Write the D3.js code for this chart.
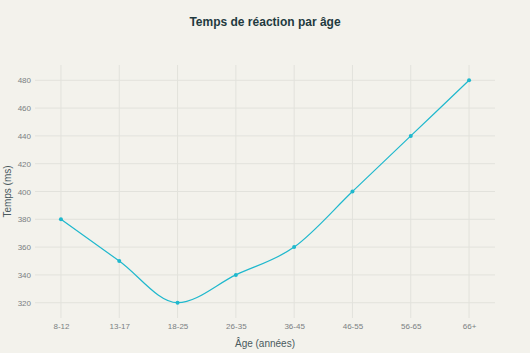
<!DOCTYPE html>
<html>
<head>
<meta charset="utf-8">
<script src="https://cdn.jsdelivr.net/npm/d3@7"></script>
<style>
  body { margin: 0; background: #f3f2ec; }
  svg { display: block; font-family: "Liberation Sans", Arial, sans-serif; }
  .tick text { fill: #7a7f82; font-size: 8px; }
</style>
</head>
<body>
<svg id="chart" width="530" height="353"></svg>
<script>
// data
var ageGroups = ["8-12", "13-17", "18-25", "26-35", "36-45", "46-55", "56-65", "66+"];
var reactionMs = [380, 350, 320, 340, 360, 400, 440, 480];
var yTicks = [320, 340, 360, 380, 400, 420, 440, 460, 480];

var svg = d3.select("#chart");
var width = 530, height = 353;
var margin = {left: 35, right: 35, top: 65, bottom: 35};

svg.append("rect").attr("width", width).attr("height", height).attr("fill", "#f3f2ec");

var x = d3.scalePoint()
    .domain(ageGroups)
    .range([margin.left, width - margin.right])
    .padding(0.445);

var y = d3.scaleLinear()
    .domain([309, 491])
    .range([height - margin.bottom, margin.top]);

// grid
svg.append("g")
    .selectAll("line.v")
    .data(ageGroups)
    .enter()
    .append("line")
    .attr("x1", d => x(d)).attr("x2", d => x(d))
    .attr("y1", margin.top).attr("y2", height - margin.bottom)
    .attr("stroke", "#e2e2dc").attr("stroke-width", 1);

svg.append("g")
    .selectAll("line.h")
    .data(yTicks)
    .enter()
    .append("line")
    .attr("x1", margin.left).attr("x2", width - margin.right)
    .attr("y1", d => y(d)).attr("y2", d => y(d))
    .attr("stroke", "#e2e2dc").attr("stroke-width", 1);

// axes (labels only)
var xAxis = d3.axisBottom(x).tickSize(0).tickPadding(5);
svg.append("g")
    .attr("transform", "translate(0," + (height - margin.bottom) + ")")
    .call(xAxis)
    .call(g => g.select(".domain").remove());

var yAxis = d3.axisLeft(y).tickValues(yTicks).tickSize(0).tickPadding(4);
svg.append("g")
    .attr("transform", "translate(" + margin.left + ",0)")
    .call(yAxis)
    .call(g => g.select(".domain").remove());

// line
var pts = ageGroups.map((a, i) => ({age: a, v: reactionMs[i]}));
var line = d3.line()
    .x(d => x(d.age))
    .y(d => y(d.v))
    .curve(d3.curveMonotoneX);

svg.append("path")
    .datum(pts)
    .attr("d", line)
    .attr("fill", "none")
    .attr("stroke", "#1fb8cd")
    .attr("stroke-width", 1.2);

svg.append("g")
    .selectAll("circle")
    .data(pts)
    .enter()
    .append("circle")
    .attr("cx", d => x(d.age))
    .attr("cy", d => y(d.v))
    .attr("r", 2)
    .attr("fill", "#1fb8cd");

// titles
svg.append("text")
    .attr("x", width / 2).attr("y", 26)
    .attr("text-anchor", "middle")
    .attr("fill", "#1f3a3f")
    .attr("font-size", "12px")
    .attr("font-weight", "bold")
    .text("Temps de réaction par âge");

svg.append("text")
    .attr("x", (margin.left + width - margin.right) / 2).attr("y", 347)
    .attr("text-anchor", "middle")
    .attr("fill", "#4a5a5e")
    .attr("font-size", "10px")
    .text("Âge (années)");

svg.append("text")
    .attr("transform", "translate(11," + ((margin.top + height - margin.bottom) / 2) + ") rotate(-90)")
    .attr("text-anchor", "middle")
    .attr("fill", "#4a5a5e")
    .attr("font-size", "10px")
    .text("Temps (ms)");
</script>
</body>
</html>
